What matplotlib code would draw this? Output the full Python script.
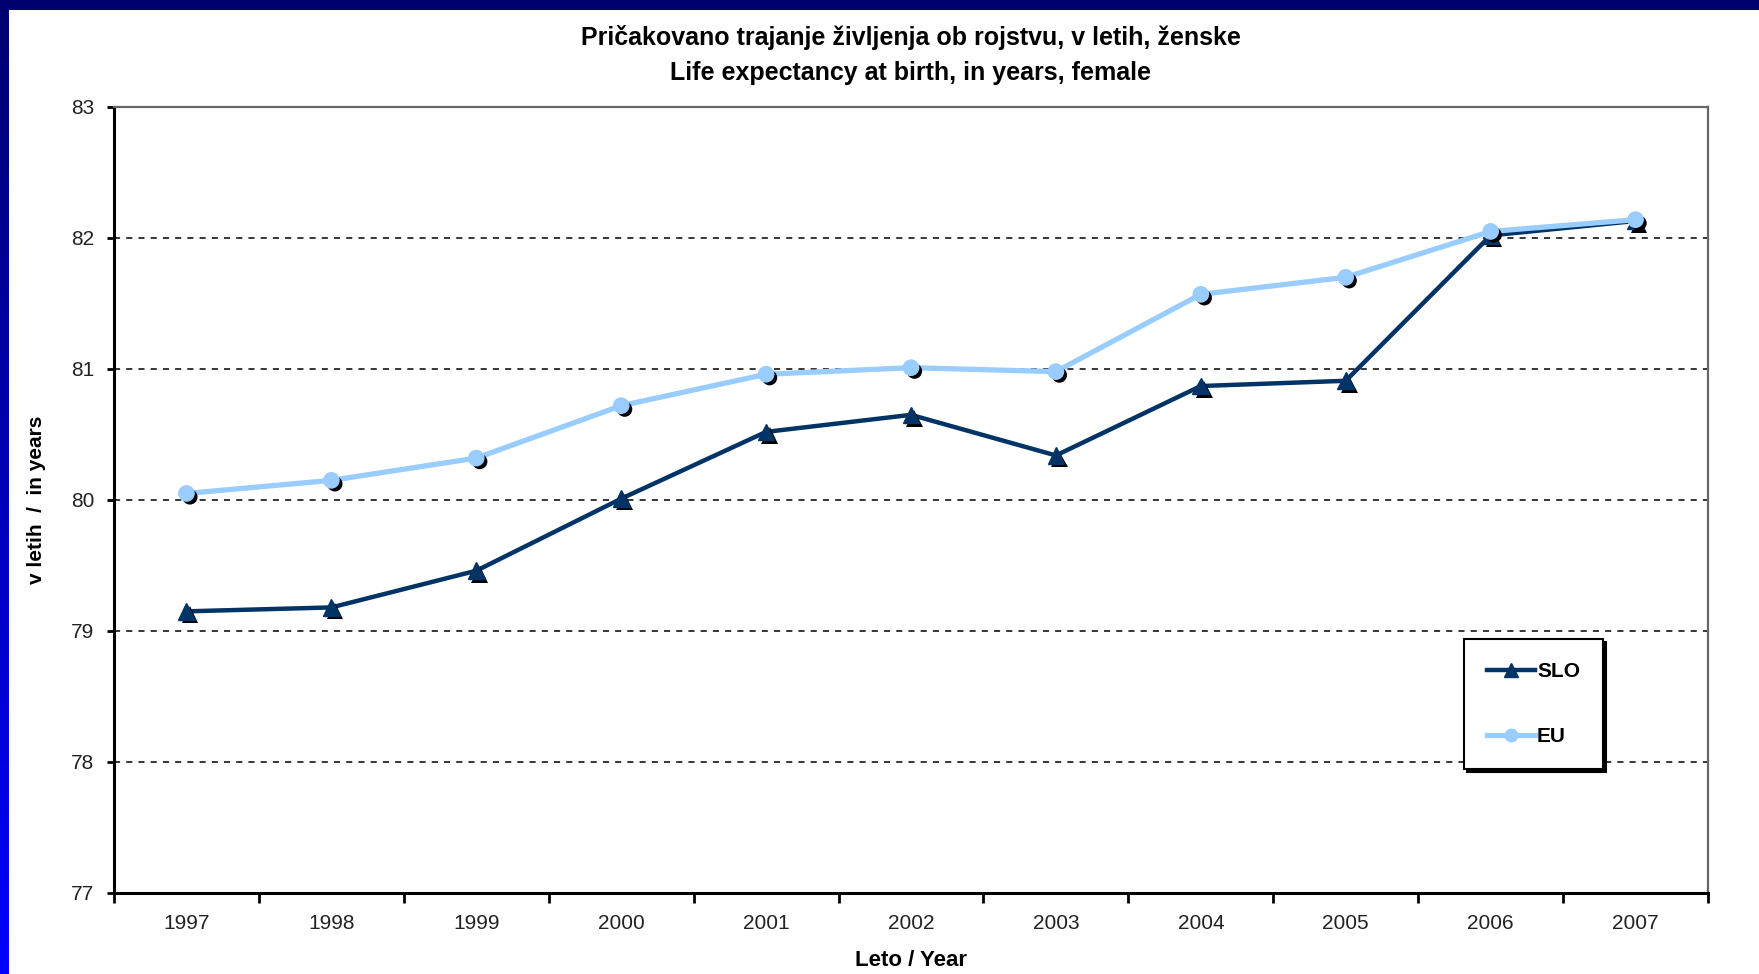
import numpy as np
import matplotlib
matplotlib.use("Agg")
import matplotlib.pyplot as plt
import matplotlib.patheffects as pe
from matplotlib.patches import Rectangle
from matplotlib.colors import LinearSegmentedColormap

plt.rcParams['font.family'] = ['Liberation Sans', 'DejaVu Sans']

years = ['1997', '1998', '1999', '2000', '2001', '2002', '2003', '2004', '2005', '2006', '2007']
slo = [79.15, 79.18, 79.46, 80.01, 80.52, 80.65, 80.34, 80.87, 80.91, 82.02, 82.13]
eu = [80.05, 80.15, 80.32, 80.72, 80.96, 81.01, 80.98, 81.57, 81.70, 82.05, 82.14]
yticks = [77, 78, 79, 80, 81, 82, 83]
title = "Pričakovano trajanje življenja ob rojstvu, v letih, ženske\nLife expectancy at birth, in years, female"

W, H = 1759, 974
fig = plt.figure(figsize=(W / 100, H / 100), dpi=100)
fig.patch.set_facecolor('white')

# decorative border: top strip and left gradient strip
fig.patches.append(Rectangle((0, 1 - 10 / H), 1, 10 / H, transform=fig.transFigure,
                             facecolor='#00006e', edgecolor='none', zorder=0))
bax = fig.add_axes([0, 0, 9 / W, 1 - 10 / H])
grad = np.linspace(0, 1, 256).reshape(-1, 1)
cmap = LinearSegmentedColormap.from_list('b', ['#000070', '#0000ff'])
bax.imshow(grad, aspect='auto', cmap=cmap, extent=[0, 1, 0, 1], origin='upper')
bax.axis('off')

left, right, top, bottom = 114, 1708, 107, 893
ax = fig.add_axes([left / W, 1 - bottom / H, (right - left) / W, (bottom - top) / H])
x = np.arange(len(years))

slo_c = '#003366'
eu_c = '#99ccff'
shadow = [pe.SimplePatchShadow(offset=(2.5, -2.5), shadow_rgbFace='black', alpha=1.0), pe.Normal()]

ax.plot(x, slo, color=slo_c, lw=3.2, zorder=3)
ax.plot(x, slo, ls='none', marker='^', ms=12, color=slo_c, zorder=4, path_effects=shadow)
ax.plot(x, eu, color=eu_c, lw=3.8, zorder=5)
ax.plot(x, eu, ls='none', marker='o', ms=11, color=eu_c, zorder=6, path_effects=shadow)

# legend proxies
ax.plot([], [], color=slo_c, lw=3.2, marker='^', ms=10, label='SLO')
ax.plot([], [], color=eu_c, lw=3.8, marker='o', ms=9, label='EU')

ax.set_xlim(-0.5, len(years) - 0.5)
ax.set_ylim(77, 83)
ax.set_yticks(yticks)
ax.set_yticklabels([str(v) for v in yticks], fontsize=15, color='#222222')
ax.set_xticks(np.arange(-0.5, len(years), 1.0))
ax.set_xticklabels([])
ax.set_xticks(x, minor=True)
ax.set_xticklabels(years, minor=True, fontsize=15, color='#222222')
ax.tick_params(axis='x', which='major', length=7, width=2, direction='out', color='black')
ax.tick_params(axis='x', which='minor', length=0, pad=15)
ax.tick_params(axis='y', length=5, width=2, direction='out', pad=9)

for v in yticks[1:-1]:
    ax.axhline(v, color='black', lw=1.1, ls=(0, (4, 4)), zorder=1)

ax.spines['left'].set_linewidth(2.2)
ax.spines['bottom'].set_linewidth(2.2)
ax.spines['top'].set_color('#666666')
ax.spines['right'].set_color('#666666')
ax.spines['top'].set_linewidth(1.6)
ax.spines['right'].set_linewidth(1.6)

ax.set_xlabel('Leto / Year', fontsize=16, fontweight='bold')
ax.xaxis.set_label_coords(0.5 * (left + right) / W / ((right - left) / W) - left / (right - left), -(960 - bottom) / (bottom - top))
ax.set_ylabel('v letih  /  in years', fontsize=15, fontweight='bold')
ax.yaxis.set_label_coords((36 - left) / (right - left), 0.5)
ax.xaxis.label.set_va('center')
ax.yaxis.label.set_va('center')

fig.text(0.5 * (left + right) / W, 1 - 37 / H, title.split('\n')[0], ha='center', va='center',
         fontsize=18, fontweight='bold')
fig.text(0.5 * (left + right) / W, 1 - 73 / H, title.split('\n')[1], ha='center', va='center',
         fontsize=18, fontweight='bold')

leg = ax.legend(loc='upper left', bbox_to_anchor=(0.847, 0.323), frameon=True,
                fancybox=False, edgecolor='black', framealpha=1,
                shadow={'color': 'black', 'alpha': 1.0},
                labelspacing=2.2, handlelength=2.3, handletextpad=0.1,
                borderpad=1.1, prop={'size': 15, 'weight': 'bold'}, borderaxespad=0)
leg.get_frame().set_linewidth(1.5)
leg.set_zorder(10)

fig.savefig('out.png', dpi=100)
